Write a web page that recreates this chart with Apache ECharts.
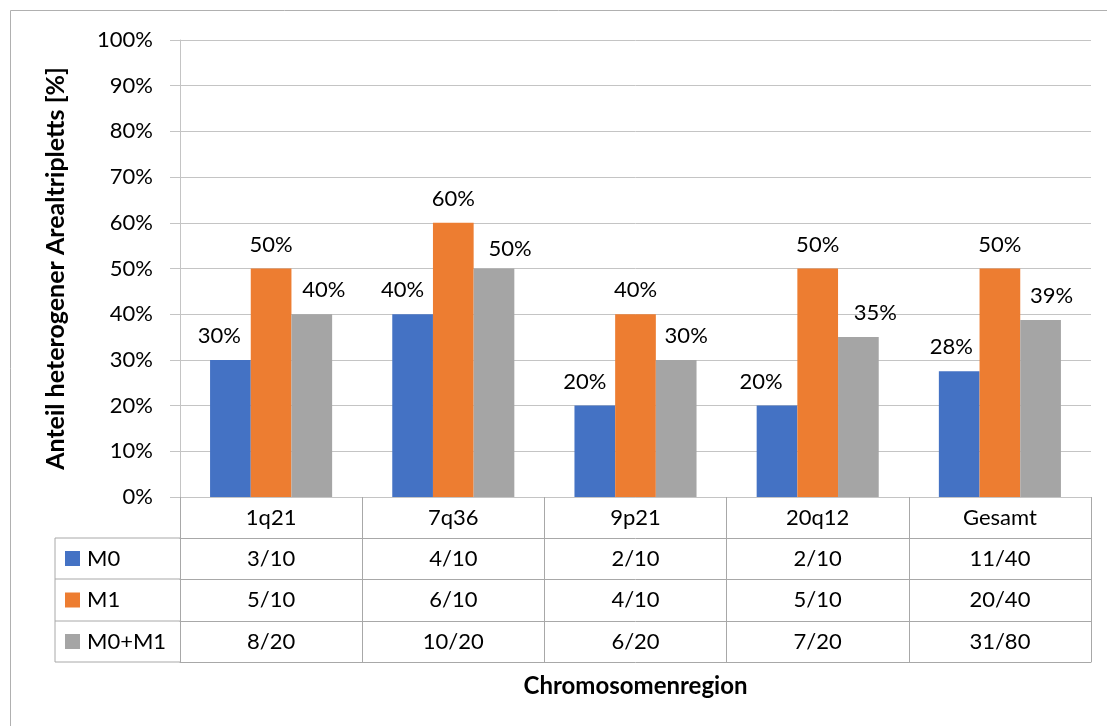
<!DOCTYPE html>
<html>
<head>
<meta charset="utf-8">
<script src="https://cdn.jsdelivr.net/npm/echarts@6/dist/echarts.min.js"></script>
<style>
  html, body { margin: 0; padding: 0; background: #fff; }
  #chart { width: 1107px; height: 726px; }
</style>
</head>
<body>
<div id="chart"></div>
<script>
// Regions and series
const regions = ['1q21', '7q36', '9p21', '20q12', 'Gesamt'];
const seriesNames = ['M0', 'M1', 'M0+M1'];

// Share of heterogeneous areal triplets, in percent
const valuesM0 = [30, 40, 20, 20, 27.5];
const valuesM1 = [50, 60, 40, 50, 50];
const valuesM0M1 = [40, 50, 30, 35, 38.75];

// Counts shown in the data table
const countsM0 = ['3/10', '4/10', '2/10', '2/10', '11/40'];
const countsM1 = ['5/10', '6/10', '4/10', '5/10', '20/40'];
const countsM0M1 = ['8/20', '10/20', '6/20', '7/20', '31/80'];

// Y axis ticks
const yTicks = [0, 10, 20, 30, 40, 50, 60, 70, 80, 90, 100];

const colors = ['#4472C4', '#ED7D31', '#A5A5A5'];
const FONT = 'Lato';
const FS = 22;
const gridColor = '#C4C4C4';
const tableColor = '#A8A8A8';

// Horizontal label nudges so neighbouring value labels stay apart
const labelNudge = [
  [[-11, 0], [-10, 0], [-10, 0], [-16, 0], [-8, 0]],
  [[0, 0], [0, 0], [0, 0], [0, 0], [0, 0]],
  [[12, 0], [16, 4], [10, 0], [17, 0], [11, 0]]
];

const allValues = [valuesM0, valuesM1, valuesM0M1];
const allCounts = [countsM0, countsM1, countsM0M1];

const plotLeft = 180, plotRight = 1091, plotTop = 40, plotBottom = 497;
const rowH = [41, 41, 42, 41];

const chart = echarts.init(document.getElementById('chart'), null, { renderer: 'canvas' });

function tableAxis(data, offset, height, withLabels) {
  return {
    type: 'category',
    data: data,
    position: 'bottom',
    offset: offset,
    gridIndex: 0,
    boundaryGap: true,
    axisLine: { show: true, lineStyle: { color: offset === 0 ? gridColor : tableColor, width: 1 } },
    axisTick: { show: height > 0, length: height, inside: false, lineStyle: { color: tableColor, width: 1 } },
    axisLabel: {
      show: withLabels,
      interval: 0,
      margin: 10,
      color: '#000',
      fontFamily: FONT,
      fontSize: FS,
      lineHeight: 22
    },
    splitLine: { show: false }
  };
}

const xAxes = [tableAxis(regions, 0, rowH[0], true)];
let off = rowH[0];
allCounts.forEach((c, i) => {
  xAxes.push(tableAxis(c, off, rowH[i + 1], true));
  off += rowH[i + 1];
});
xAxes.push(tableAxis(regions, off, 0, false));
const tableBottom = plotBottom + off;

const series = allValues.map((vals, s) => ({
  name: seriesNames[s],
  type: 'bar',
  xAxisIndex: 0,
  barGap: '0%',
  barCategoryGap: '33%',
  itemStyle: { color: colors[s] },
  label: {
    show: true,
    position: 'top',
    distance: 13,
    color: '#000',
    fontFamily: FONT,
    fontSize: FS,
    formatter: p => Math.round(p.value) + '%'
  },
  data: vals.map((v, i) => ({ value: v, label: { offset: labelNudge[s][i] } }))
}));

// Left column of the table (legend cell borders)
const leftCol = 55;
const leftLines = [];
let yy = plotBottom + rowH[0];
const rowYs = [yy];
for (let i = 1; i < rowH.length; i++) { yy += rowH[i]; rowYs.push(yy); }
rowYs.forEach(y => leftLines.push({
  type: 'line', shape: { x1: leftCol, y1: y, x2: plotLeft, y2: y },
  style: { stroke: tableColor, lineWidth: 1 }, silent: true
}));
leftLines.push({
  type: 'line', shape: { x1: leftCol, y1: rowYs[0], x2: leftCol, y2: tableBottom },
  style: { stroke: tableColor, lineWidth: 1 }, silent: true
});

chart.setOption({
  animation: false,
  backgroundColor: '#fff',
  textStyle: { fontFamily: FONT },
  grid: { left: plotLeft, right: 1107 - plotRight, top: plotTop, bottom: 726 - plotBottom, containLabel: false },
  legend: {
    orient: 'vertical',
    left: 60,
    top: plotBottom + rowH[0] + 4.5,
    itemWidth: 15,
    itemHeight: 15,
    itemGap: 19.5,
    icon: 'rect',
    data: seriesNames,
    textStyle: { color: '#000', fontFamily: FONT, fontSize: FS, lineHeight: 22, padding: [0, 0, 0, 2] },
    selectedMode: false
  },
  xAxis: xAxes,
  yAxis: {
    type: 'value',
    min: yTicks[0],
    max: yTicks[yTicks.length - 1],
    interval: yTicks[1] - yTicks[0],
    name: 'Anteil heterogener Arealtripletts [%]',
    nameLocation: 'middle',
    nameGap: 112,
    nameTextStyle: { color: '#000', fontFamily: FONT, fontSize: 25, fontWeight: 'bold' },
    axisLine: { show: true, lineStyle: { color: gridColor, width: 1 } },
    axisTick: { show: true, length: 10, inside: false, lineStyle: { color: gridColor, width: 1 } },
    axisLabel: {
      margin: 27,
      color: '#000',
      fontFamily: FONT,
      fontSize: FS,
      formatter: '{value}%'
    },
    splitLine: { show: true, lineStyle: { color: gridColor, width: 1 } }
  },
  series: series,
  graphic: [
    // chart frame
    { type: 'line', shape: { x1: 10.5, y1: 10.5, x2: 1107, y2: 10.5 }, style: { stroke: '#B0B0B0', lineWidth: 1 }, silent: true },
    { type: 'line', shape: { x1: 10.5, y1: 10.5, x2: 10.5, y2: 726 }, style: { stroke: '#B0B0B0', lineWidth: 1 }, silent: true },
    ...leftLines,
    {
      type: 'text',
      x: (plotLeft + plotRight) / 2,
      y: 686,
      style: {
        text: 'Chromosomenregion',
        fill: '#000',
        font: 'bold 24px ' + FONT,
        textAlign: 'center',
        textVerticalAlign: 'middle'
      },
      silent: true
    }
  ]
});
</script>
</body>
</html>
